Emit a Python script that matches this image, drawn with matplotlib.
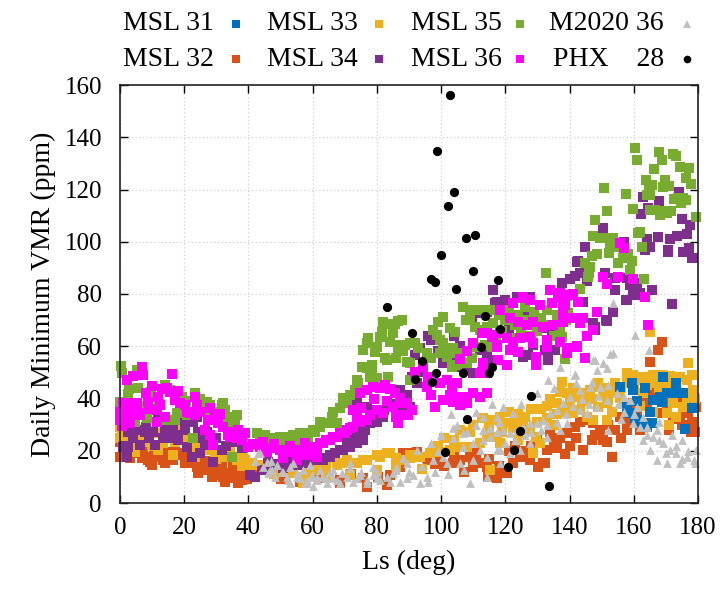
import numpy as np
import matplotlib
matplotlib.use("Agg")
import matplotlib.pyplot as plt
from matplotlib.lines import Line2D

# ---------------- data (Ls deg, VMR ppm) ----------------
MSL31 = [(155.7,44.5),(159.3,45.8),(159.9,43.3),(157.8,36.9),(158.8,34.3),(160.9,31.8),(163,30.5),(164,29.2),
         (165,34.9),(166.1,39.4),(168.2,40.7),(168.7,38.8),(170.3,42),(172.3,42),(173.3,45.8),(169.2,48.3),
         (165.6,30.5),(175.4,42),(160.4,32.4),(162,30.5),(178,36.2),(161,39),(163.5,44),(176,28.5)]

MSL32 = [(0,23.5),(0,17.7),(1.6,17.7),(3.1,17.1),(6.7,17.1),(8.8,16.5),(11.9,17.7),(14,19.6),(16.1,19),(19.2,19),
         (22.3,17.7),(23.4,15.2),(25.4,13.9),(27.5,12.6),(29.6,11.4),(31.7,10.7),(33.7,10.1),(35.8,9.4),(37.9,8.8),
         (9.9,14.5),(14,15.2),(16.6,16.5),(20.2,15.2),(24.4,11.4),(28.5,10.1),(32.7,8.2),(36.8,7.5),(34.8,11.4),
         (37.9,11.4),(41,11.4),(44.1,12.6),(46.2,13.3),(29.6,16.5),(31.7,14.5),(5.2,21.5),(7.3,20.9),(8.3,17.7),
         (9.3,15.8),(12.5,17.7),(13.5,16.5),(15.6,19),(17.1,19.6),(18.7,18.4),(23.9,13.9),(25.9,12.6),(29.1,11.4),
         (32.2,10.1),(35.3,10.1),(37.4,9.4),(4.5,19),(10.5,19.5),(21,20),(26.5,16),(30.5,13),(39.5,9),
         (35.3,14.5),(38.4,12.6),(39.4,10.1),(68.5,8.8),(75.8,9.4),(80.4,10.1),(84.1,10.7),(87.2,13.9),(90.3,19),
         (92.4,17.7),(95.5,16.5),(88.2,19),(92.4,19.6),(96.5,19),(99.7,17.7),(103.8,15.2),(105.9,16.5),(109,17.7),
         (110,13.9),(112.6,15.2),(114.7,10.1),(117.3,10.7),(68.5,7.5),(76.8,6.2),(83,6.9),(50,9),(56,8),(62,9.5),(72,11),
         (112.1,15.2),(114.2,13.9),(117.3,9.4),(120.4,11.4),(122.5,15.2),(124.6,17.7),(127.7,16.5),(130.3,13.9),
         (131.8,15.2),(132.9,20.3),(135,23.5),(137,24.8),(139.1,26.7),(141.7,29.2),(143.3,31.1),(145.3,31.8),
         (147.4,30.5),(149.5,27.9),(150.5,24.1),(151.6,23.5),(146.9,24.1),(144.3,20.3),(138.6,18.6),(132.4,15.4),
         (153.1,17.7),(155.7,33),(157.8,30.5),(159.9,38.2),(163,40.7),(164,38.8),(166.1,42),(167.2,44.5),(169.2,40.1),
         (170.3,36.9),(172.3,38.8),(174.4,40.7),(176.5,42),(178.6,37.5),(179.5,36.9),(177.8,27.3),(174.4,33),
         (177,34.3),(172.3,32),(168.7,34.3),(168.7,61.7),(167.4,58.6),(165.2,54.1),(126,20),(134,27),(140,22),
         (154,28),(161,35),
         (98,15),(101,14),(104,18),(107,12),(111,19),(115,17),(118,14),(121,20),(123,22),(128,22),(130,25),(136,21),
         (142,25),(148,26),(152,30),(156,25),(158,28),(160,33),(162,28),(171,28),(175,30),(178,31),(179,27)]

MSL33 = [(0,29.2),(0.5,26.7),(1,27.9),(0,24.8),(4.1,22.8),(6.7,23.5),(8.8,25.4),(11.9,26.7),(15,24.8),(17.1,23.5),
         (19.2,25.4),(21.8,24.8),(24.4,22.8),(25.9,20.9),(27.5,20.3),(29.6,19.6),(31.7,20.3),(34.3,18.4),(36.9,17.1),
         (39,16.5),(41.1,15.3),(43.1,14.5),(4.7,19.6),(11.9,20.3),(16.6,18.4),(23.4,17.7),(32.7,17.7),(19.2,29.9),
         (8.8,27.3),(2.5,25),(13.5,23),(10,22),(28.5,22.5),(22.5,21.5),(30,17),(38,14),(6,25.5),(14,27.5),
         (34.3,19.6),(36.3,16.5),(38.4,17.7),(40.5,12.5),(45,13),(48,11),(51,12.5),(54,11.4),(57.1,10.1),(63.3,13.9),
         (67.5,14.5),(70.6,15.2),(75.8,16.5),(79.9,18.4),(83,19),(86.1,17.1),(90.3,18.4),(93.4,17.7),(96.5,19),
         (58.1,11.4),(61.2,12.6),(64.3,13.9),(67.5,15.2),(70.6,16.5),(73.7,15.2),(76.8,16.5),(57.1,7.5),(64.3,10.1),
         (71.6,10.7),(79.9,12.6),(81,17.7),(84.1,19),(87.2,16.5),(90.3,17.1),(93.4,17.7),(96.5,19),(99.7,19.6),
         (102.8,20.3),(105.9,21.5),(108,21.5),(112.1,22.8),(114.2,25.4),(112.6,32.4),(117.3,25.4),(118.3,22.8),
         (99,22),(104,24),(109,27),(86,14),(94,13),
         (137.5,46.4),(137,42.6),(139.1,42),(136,38.2),(140.1,38.2),(142.2,40.7),(144.3,42),(146.4,43.3),(148.5,44.5),
         (150.5,42),(149,36.9),(151.6,38.2),(153.1,34.9),(151.6,31.8),(157.8,49.6),(159.9,49),(163,48.3),(166.1,49),
         (168.7,49),(171.3,48.6),(174.4,48.3),(176.5,47.1),(178.5,43.3),(176.5,40.7),(172.3,38.2),(170.2,34.3),
         (173.3,33),(175.4,36.9),(165.1,65.6),(176.8,53.5),(152.1,39.4),(155.7,40.1),(153.6,42),(118.3,33),(120.4,30.5),
         (122.5,28.6),(125.6,30.5),(127.7,27.9),(129.7,25.4),(130.8,22.8),(128.7,19),(132.9,32.4),(113.2,32.4),
         (116.3,31.8),(114.2,26.7),(143.3,35.6),(145.3,33),(147.4,31.8),(141.2,34.3),(115.2,12.6),(124,34),(131,36),
         (134,40),(160,44),(163,42),(168,44),(124,24),(135,30),
         (101,25),(106,28),(110,30),(115,29),(119,27),(121,35),(123,31),(126,33),(128,36),(130,31),(133,37),(136,34),
         (138,35),(141,44),(144,39),(147,40),(149,46),(152,44),(154,46),(156,44),(158,46),(161,47),(164,45),(167,46),
         (170,45),(173,44),(178,49),(179,40),(171,30),(166,35),(162,37),(157,38)]

MSL34 = [(2.6,27.3),(5.2,27.9),(7.8,27.3),(10.4,27.3),(14,27.9),(16.6,27.9),(20.2,27.9),(11.9,32.4),(14.5,29.9),
         (19.2,36.9),(20.2,31.1),(2.6,21.5),(6.2,22.2),(10.9,22.2),(13.5,24.8),(15.6,24.8),(18.2,24.1),(2.1,17.7),
         (1,21.5),(22.8,31.1),(24.4,27.3),(25.4,24.8),(26.5,22.2),(28.5,22.8),(31.7,20.3),(29.1,15.8),(22.3,17.7),
         (20.8,21.5),(23.9,33),(1.6,21.8),(34.3,24.8),(35.8,23.5),(37.9,20.9),(40,21.5),(4,25),(9,25),(17,26),(8,29),
         (27,27),(30,25),(33,22),(25,19),
         (42,10.1),(44.1,12.6),(46.2,15.8),(48.3,14.9),(51.4,15.2),(54.5,14.5),(57.6,15.4),(59.7,16.5),(40.5,10.7),
         (44.6,12.6),(46.7,13.9),(50.9,13.3),(55,14.5),(58.6,15.8),(62.3,17.1),(65.4,18.4),(68.5,20.3),(70.6,22.8),
         (72.7,24.8),(73.7,27.3),(75.3,26.7),(75.8,24.1),(73.7,38.2),(76.8,36.9),(79.9,31.1),(82,33),(86.1,35.6),
         (88.2,34.9),(90.3,36.9),(65.4,17.7),(63.3,16.5),(60.2,16.5),(57.6,15.2),(69.6,20.3),(71.6,21.5),(73.7,22.8),
         (75.3,25.4),(76.3,27.9),(77.9,30.5),(79.4,31.8),(82.3,35.6),(87.2,43.3),(89.3,41.3),(88.2,38.2),(90.3,36.2),
         (90.8,48.3),(92.4,45.8),(93.4,59.2),(91.9,56.7),(96,63.9),(97,62.4),(100.7,53.5),(103.3,54.1),(105.4,52.2),
         (108,50.9),(110,49.6),(112.1,58.6),(114.2,56.7),(116.3,54.7),(109.5,70),(111.1,72.6),(114.2,73.2),
         (116.3,81.5),(117.3,77.1),(53,17),(67,19),(84,38),(94,50),(99,58),(106,60),(104,64),
         (116.8,76.4),(119.9,77.7),(123.5,79),(127.7,79),(132.3,66.9),(134.4,65.6),(128.7,60.5),(132.3,58.6),
         (133.4,54.7),(127.1,56.7),(125.6,56),(137,63),(135.5,58.6),(143.3,87.9),(142.2,92.4),(137.5,84.3),
         (140.1,85.6),(145.3,85.1),(144.3,77.1),(147.4,68.8),(148,66.2),(151.5,70),(153.6,73.2),(151,87.9),
         (154.2,81.5),(157.8,77.7),(159.9,80.3),(161,80.9),(165.6,81.5),(171.8,76.2),(175.4,96.2),(178,93.7),
         (170.8,96.2),(174.2,119.2),(163,117.2),(168,115.6),(164.5,112.8),(162.4,110.5),(174.9,108.6),(177.5,106.4),
         (150.5,105.1),(156.8,100),(158.3,94.3),(164,100.9),(167.4,101.7),(171.3,100.9),(173.6,102.2),(176.5,103),
         (163.5,96.8),(165,97.9),(170.8,96.8),(177.3,97.7),(178.3,93.9),(144.8,97.9),(142.7,92.6),(141.7,87),
         (154.2,86),(157.8,86.2),(158.8,83.4),(161,84.1),(162,80.3),(160.4,79.6),(157.6,77.7),(151.6,69.8),
         (148,67.5),(130,70),(121,67),(126,72),(138,73)]

MSL35 = [(0.3,52.4),(0.7,49.9),(5.2,50.9),(2.8,43.5),(2.6,41.7),(5.7,43.9),(0,38.5),(9.6,42.6),(10.7,40.7),(14,45.2),
         (15.6,43.3),(19.2,40.7),(20.5,39),(23.4,42.2),(24.9,39.7),(17.6,34.3),(17.1,31.8),(14.5,31.8),(26.5,38.2),
         (28,37.5),(31.7,37.5),(32.7,35.6),(34.8,33),(33.7,31.8),(35.3,28.6),(22.8,24.8),(8.3,32.4),(4.7,31.1),
         (27.5,34.3),(37.4,26),(34.8,17.7),(17.1,40.1),(20.8,33.7),(27,38.8),(32.2,38.4),(36.3,33.7),(37.9,24.1),
         (41.5,22.2),(43.6,22.8),(35.8,31.8),(0.5,38.8),(7.5,37),(12,38),(29.5,35),
         (42.6,26.7),(45.2,26),(47.7,24.8),(49.8,25.4),(51.9,25.1),(54,26),(56.1,26.7),(58.1,26.9),(60.7,27.3),
         (62.3,29.2),(64.4,30.7),(66.4,34.9),(68.5,36.2),(70.1,38.2),(46.7,24.8),(54,24.8),(44.5,24),(50.5,23.5),
         (55.5,23.8),(58.6,23.5),(56.6,25.4),(60.2,27.9),(62.3,31.1),(63.8,30.5),(65.4,30.5),(67.5,30.5),(65.9,33),
         (69.5,40.1),(70.6,38.2),(71.6,41.3),(73.2,43.3),(73.7,47.1),(74.2,45.8),(75.3,52.2),(76.8,51.6),(78.4,52.8),
         (78.4,49.6),(77.9,48.3),(80,47.7),(83.6,48.3),(75.8,58.6),(77.3,63),(76.8,61.1),(80,59.8),(79.4,57.9),
         (81.5,65.6),(81,63.7),(82.5,55.4),(83.3,54.7),(81.8,69.4),(83.6,68.4),(85.1,65),(84.1,61.7),(86.5,69.8),
         (87.7,70),(85.6,68.5),(87.2,60.5),(88.8,60.5),(90.3,61.1),(91.9,61.1),(92.9,59.2),(86.7,58.6),(88.2,58.3),
         (86.1,55.4),(89.3,54.1),(90.3,53.5),(90.3,47.1),(95.5,57.3),(97,55.4),(97.6,66.2),(98.6,64.3),(99.7,62.4),
         (100.7,61.1),(99.1,69.4),(100.5,71.1),(99.7,57.3),(101.7,56),(102.2,59.2),(103.8,59.2),(104.8,57.3),
         (103.3,52.2),(104.8,52.8),(102.8,66.9),(104.3,65.6),(106.9,74.9),(107.6,70),(109,71.1),(110,73.9),
         (112.6,73.9),(115.2,73.9),(110.6,67.5),(112.1,66.2),(114.2,65.6),(114.2,67.5),(116.3,68.8),(108,53.5),
         (109.5,55.4),(111.1,59.8),(113.7,60.5),(115.7,59.8),
         (118,72),(120,70),(121,74),(123,68),(124,72),(126,75),(127,70),(129,73),(130,66),(131,71),(133,74),(134,68),
         (136,72),(137,66),(139,70),(133,62),(128,64),(125,66),(119,66),(122,63),(135,64),(117,62),
         (138.6,55),(137.6,63.7),(138.1,69.4),(139.6,72.8),(138.6,79.6),(139.1,79.4),(140.6,79.6),(143.3,81.8),
         (145.8,86.6),(146.1,87.9),(146.4,90.5),(144.8,92),(146.9,94.5),(148.4,95.2),(147.4,102.2),(149.5,101.3),
         (151.5,101.3),(153.4,101.3),(152.6,99.4),(148,108.3),(151.7,111.6),(150.7,120.7),(154.7,97.9),(152.4,95.8),
         (155.2,92),(156.5,93.7),(158.3,95.3),(159.3,92.6),(158.8,89.2),(157.7,118.2),(159.9,112.6),(160.4,135.8),
         (160.9,131.3),(161.9,103.8),(161.4,103.2),(162.7,97.9),(163.2,85.6),(163.7,123.6),(164,117.9),(164.7,119.8),
         (165,117.9),(165.8,121.7),(165,112.2),(166.6,112.2),(166.4,127.7),(167.7,134.5),(168.2,110.2),(168.7,131.3),
         (169.2,120.8),(169.7,123.6),(169.2,111.9),(170.3,111.1),(171,121.5),(171.6,111.9),(172.1,133.6),
         (173.3,132.8),(172.5,116.2),(173.9,116.6),(174.4,128.7),(174.7,114.9),(175.4,116.9),(176.3,116),
         (176.4,124.3),(177.2,128.2),(177.8,122),(179.4,109.4),(132.7,87.9)]

MSL36 = [(6.7,52.2),(4.1,48.6),(2.1,47.1),(7.3,49),(16.1,49.4),(9.9,44.8),(8,42),(8.8,38.8),(13,43.5),(14.5,43.9),
         (15.6,42.6),(18.2,43),(11.9,40.7),(12.5,37.5),(11.4,35.6),(17.1,39.4),(18.7,38.2),(1,38.2),(3.6,38.2),
         (5.2,38.2),(0,35),(0,31.8),(0.5,29.5),(2.8,34.3),(5.7,34.6),(6.2,33.7),(3.1,30.5),(11.4,31.1),(20.8,35),
         (20.2,37.5),(23.4,40.7),(23.9,37.5),(21.8,34.3),(23.4,33.7),(28,36.2),(27.5,31.8),(29.6,33),(30.6,30.5),
         (32.2,29.2),(26.5,27.9),(28,26),(29.1,22.2),(33.7,26),(35.3,27.3),(36.8,27.9),(37.9,24.1),(25,35),(31,34),
         (9,36),(14,33),
         (34.3,25.4),(36.3,24.8),(38.9,26.7),(39.9,21.5),(41.5,22.5),(43.6,21.5),(45.7,19.6),(47.7,20.9),(49.8,20.3),
         (52.4,19.6),(55,20.3),(56.6,20.3),(59.2,20.9),(61.2,21.5),(63.3,22.8),(65.4,24.1),(67.5,25.4),(70.1,26.7),
         (71.6,28.6),(50.9,17.1),(55,16.5),(58.1,18.4),(61.2,17.7),(44.5,23.5),(48,22.5),(53,22),(57.5,22.8),
         (60.2,21.5),(58.1,20.3),(62.3,22.8),(64.3,24.1),(66.4,25.4),(68.5,26.7),(70.6,27.9),(72.7,29.2),(74.7,31.1),
         (73.7,33),(72.7,35.6),(73.7,34.3),(75.2,36.2),(76.8,31.8),(77.9,33.7),(80,35.6),(82,34.3),(85.1,36.9),
         (86.1,33),(88.2,38.2),(74.7,42),(76.8,43.3),(78.9,44.5),(81,43.9),(82.5,45.2),(84.1,43.5),(85.6,42),
         (87.2,40.1),(89.3,38.2),(90.8,35.6),(89.8,33.7),(87.2,33.7),(86.7,30.5),(79,40),(83,39),(94.5,52.2),(96,48.3),
         (95.5,44.5),(97,41.3),(98.1,36.9),(99.7,45.8),(101.7,47.1),(103.3,44.5),(104.8,45.8),(102.8,41.3),
         (105.9,40.7),(108,40.7),(110,42),(112.1,40.7),(114.2,42),(100.7,39.4),(103.8,38.8),(105.9,37.5),(108,38.2),
         (110,61.1),(112.6,65),(115.7,63.7),(118.3,65),(117.3,60.5),(113.2,53.5),(114.2,49.6),(112.6,50.3),(92,50),
         (106,55),(108,58),
         (122.5,76.4),(125.6,78.4),(127.7,77.7),(130.8,75.8),(134.4,76.4),(137,80.3),(136.5,78.4),(138,76.4),
         (140.1,79.6),(142.7,77.1),(133.9,81.5),(148.4,73.2),(118.3,73.9),(121.5,70.7),(124,69.4),(126.6,68.1),
         (128.7,69.4),(131.8,67.5),(134.9,68.1),(138,69.4),(141.2,70.7),(144.3,70.7),(114.2,65),(116.3,64.3),
         (120.4,63),(122.5,61.7),(124.6,63),(127.7,63.7),(128.7,61.1),(132.9,62.4),(137,61.7),(117.3,59.8),
         (121.5,58.6),(124,57.9),(129.7,56),(132.9,59.8),(139.1,59.2),(142.2,59.8),(144.8,55.4),(117.8,54.7),
         (120.4,52.8),(113.2,52.8),(112.1,49.6),(129.7,52.8),(164.5,68.1),(155.7,99.4),(156.8,97.5),(155.2,86.6),
         (150.5,86.6),(151.6,83.8),(159.9,85.6),(163.5,79),(141.2,79.9),(138.6,75.8),(138,73.2),(143.3,68.8),
         (147.4,66.2),(145.3,63.9),(142.2,60.1),(139.1,57.5),(136.5,80.5),(125.6,79)]

M2020_36 = [(43.6,19),(45.7,15.8),(47.2,12.6),(48.8,14.5),(50.9,12),(52.9,13.9),(55,11.4),(56.1,9.4),(58.1,8.8),
            (59.7,10.7),(61.2,8.8),(62.8,10.1),(64.4,7.5),(66.4,9.4),(68.5,7.5),(70.6,10.1),(72.7,8.2),(74.7,10.7),
            (76.8,8.8),(78.9,10.7),(81,8.8),(83,10.1),(85.1,11.4),(87.2,8.2),(89.3,9.4),(91.3,10.7),(93.4,7.5),
            (95.5,10.1),(54,15.2),(59.2,14.5),(65.4,12),(71.6,13.3),(78.9,13.9),(86.1,13.9),(88.2,17.1),(92.4,20.3),
            (43.1,19),(44.6,13.9),(46.2,11.4),(48.3,10.1),(50.4,12),(52.4,8.8),(55,10.1),(57.6,7.5),(59.7,10.1),
            (103.8,28.6),(106.9,26.7),(103.8,24.8),(113.2,27.9),(115.2,28.6),(110,22.8),(112.1,20.3),(106.9,21.5),
            (100.7,17.7),(97.6,16.5),(101.7,15.2),(105.9,15.2),(110,16.5),(114.2,17.7),(117.3,20.3),(118.3,15.2),
            (89.3,15.2),(86.1,12.6),(79.9,9.4),(76.8,7.5),(73.7,9.4),(67.5,8.8),(64.3,9.4),(61.2,10.1),(58.1,7.5),
            (71.6,15.2),(66.4,12.6),(62.3,12.6),(57.1,12.6),(114.2,10.1),(109,7.5),(153.6,76.4),(160.4,64.3),
            (164.8,58.6),(153.6,57.3),(150.5,53.5),(151.6,51.6),(148.4,50.9),(147.4,54.7),(146.9,46.4),(149.5,44.5),
            (133.4,47.1),(141.7,49),(146.4,44.5),(143.3,43.3),(140.1,40.7),(138,38.2),(136,35.6),(133.9,34.3),
            (131.8,31.8),(129.8,30.5),(127.7,30.5),(125.6,29.2),(123.5,27.9),(121.5,26.7),(119.4,27.9),(117.3,27.3),
            (115.2,25.4),(113.2,24.1),(122.5,34.3),(119.4,36.9),(117.3,33),(127.7,22.8),(124.6,20.3),(121.5,19),
            (118.3,20.3),(132.9,25.4),(139.1,30.5),(137,27.9),(143.3,35.6),(145.3,34.3),(148.4,36.9),(151.6,39.4),
            (154.7,42),(156.8,40.7),(158.8,39.4),(160.9,36.9),(163,33),(159.9,30.5),(164,29.2),(167.1,27.9),
            (166.1,25.4),(169.2,22.8),(171.3,20.3),(173.3,19),(174.4,15.2),(170.2,15.2),(167.1,16.5),(176.5,17.7),
            (178.6,16.5),(179.5,20.3),(179,15.2),(165,20.3),(163,24.1),(152.6,57),(147.9,54.7),(141.7,49.3),
            (46.7,12.6),(51.9,10.1),(52.9,7.5),(98,12),(102,11),(107,12.5),(97,23),(108,32),(111,35),(125,38),
            (130,42),(135,44),(142,46),(137,52),(152,28),(156,32),(175,24),(172,26),(168,31),
            (99,20),(100,26),(103,34),(105,30),(108,27),(111,30),(113,33),(116,38),(118,31),(120,23),(123,24),(126,26),
            (128,27),(131,28),(133,30),(136,31),(139,34),(141,37),(144,40),(146,38),(149,41),(152,45),(155,38),
            (157,35),(160,34),(162,29),(164,26),(168,24),(170,19),(173,22),(175,17),(177,20),(80,12),(84,8),(90,12),
            (94,14),(96,8),(60,6.5),(69,11.5),(75,12),(47,16),(42,16)]

PHX_28 = [(83,75),(90.8,65),(92,47.3),(94,54.5),(96.9,85.6),(97.3,46.2),(98.1,84.7),(98.4,49.6),(98.7,134.7),
          (100,95),(101.2,19.6),(102.1,113.7),(102.8,156.2),(104,119),(104.5,82),(106.7,49.9),(107.6,101.3),
          (108.2,32),(110,88.8),(110.6,102.6),(112.4,59.8),(113.7,71.7),(114.9,49.6),(115.9,51.9),(117.8,85.4),
          (118.3,66.6),(120.7,13.7),(122.6,20.4),(124.6,27.7),(128,41.1),(133.5,6.5)]

labels = ["MSL 31", "MSL 32", "MSL 33", "MSL 34", "MSL 35", "MSL 36", "M2020 36", "PHX    28"]
series = [MSL31, MSL32, MSL33, MSL34, MSL35, MSL36, M2020_36, PHX_28]
colors = ["#0072BD", "#D95319", "#EDB120", "#7E2F8E", "#77AC30", "#FF00FF", "#C0C0C0", "#000000"]
markers = ["s", "s", "s", "s", "s", "s", "^", "o"]
sizes = [42, 42, 42, 42, 42, 42, 40, 44]
zorders = [3.15, 3.0, 3.1, 3.2, 3.25, 3.3, 3.35, 3.4]

x_ticks = list(range(0, 181, 20))
y_ticks = list(range(0, 161, 20))

# ---------------- figure ----------------
plt.rcParams['font.family'] = ['Liberation Serif', 'DejaVu Serif']
W, H = 724, 592
fig = plt.figure(figsize=(W / 100, H / 100), dpi=100)
ax = fig.add_axes([120 / W, 1 - 503 / H, 578 / W, 418 / H])

for data, c, m, s, z in zip(series, colors, markers, sizes, zorders):
    arr = np.array(data, dtype=float)
    ax.scatter(arr[:, 0], arr[:, 1], c=c, marker=m, s=s, linewidths=0, zorder=z, clip_on=False)

ax.set_xlim(0, 180)
ax.set_ylim(0, 160)
ax.set_xticks(x_ticks)
ax.set_yticks(y_ticks)
ax.grid(True, color="#d0d0d0", linestyle=(0, (1, 2)), linewidth=0.9, zorder=0)
ax.tick_params(direction="in", length=6, width=1, top=True, right=True, labelsize=18)
ax.tick_params(axis="x", pad=10)
ax.tick_params(axis="y", pad=13)
for sp in ax.spines.values():
    sp.set_linewidth(1.2)
    sp.set_color("#222222")
    sp.set_zorder(5)
ax.set_xlabel("Ls (deg)", fontsize=20, labelpad=8)
ax.set_ylabel("Daily Minimum VMR (ppm)", fontsize=20, labelpad=6)

# ---------------- legend (gnuplot style: right-justified text, sample after) ----------------
text_right = [214, 214, 358, 358, 502, 502, 664, 664]
mark_x = [236, 236, 379, 379, 520, 520, 687, 687]
rows_y = [23.5, 59, 23.5, 59, 23.5, 59, 23.5, 59]
for lab, c, m, tx, mx, yy in zip(labels, colors, markers, text_right, mark_x, rows_y):
    fig.text(tx / W, 1 - yy / H, lab, ha="right", va="center", fontsize=20)
    fig.add_artist(Line2D([mx / W], [1 - yy / H], marker=m, color=c, markersize=5.5,
                          linestyle="none", markeredgewidth=0, transform=fig.transFigure))

fig.savefig("out.png", dpi=100)
